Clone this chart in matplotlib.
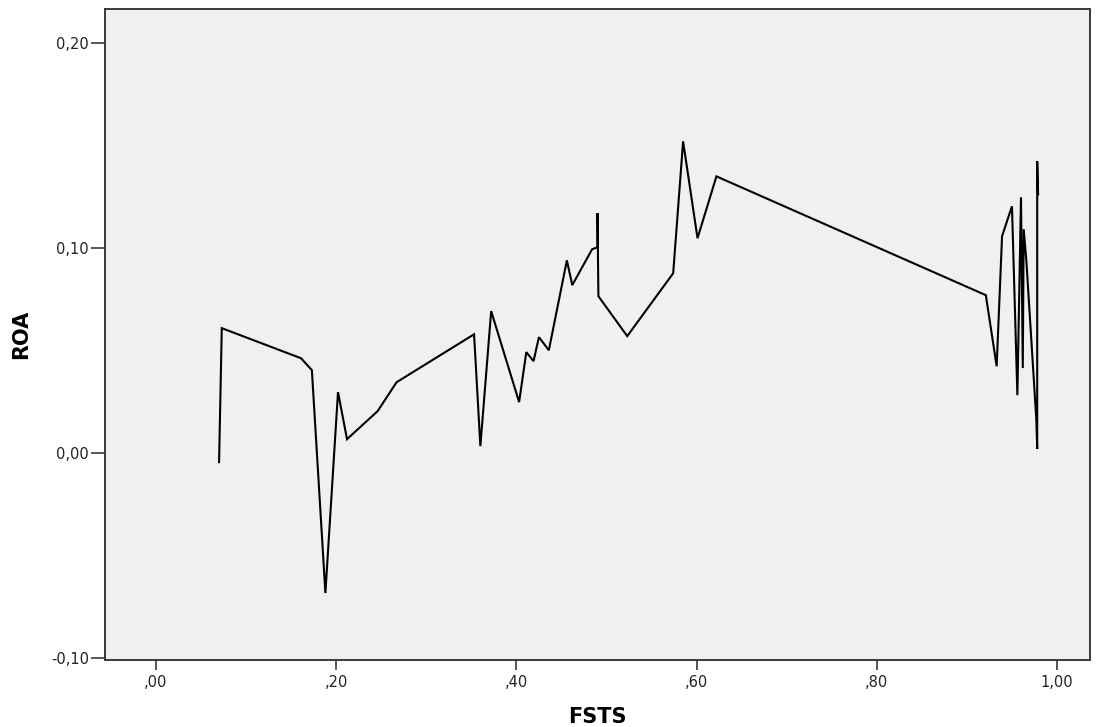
import matplotlib
matplotlib.use("Agg")
import matplotlib.pyplot as plt
from matplotlib.ticker import FixedLocator

plt.rcParams['font.family'] = ['DejaVu Sans']

fsts = [0.070, 0.073, 0.161, 0.173, 0.188, 0.202, 0.212, 0.246, 0.267,
        0.353, 0.360, 0.372, 0.403, 0.411, 0.419, 0.425, 0.436, 0.456,
        0.462, 0.484, 0.490, 0.490, 0.491, 0.523, 0.574, 0.585, 0.601,
        0.622, 0.921, 0.933, 0.939, 0.950, 0.956, 0.960, 0.962, 0.963,
        0.966, 0.977, 0.978, 0.978, 0.979]
roa = [-0.0044, 0.0610, 0.0463, 0.0405, -0.0683, 0.0298, 0.0068, 0.0205, 0.0346,
       0.0580, 0.0034, 0.0693, 0.0249, 0.0493, 0.0449, 0.0566, 0.0502, 0.0941,
       0.0820, 0.0995, 0.1005, 0.1171, 0.0766, 0.0571, 0.0878, 0.1522, 0.1049,
       0.1351, 0.0771, 0.0424, 0.1059, 0.1205, 0.0283, 0.1249, 0.0415, 0.1093,
       0.0937, 0.0166, 0.0020, 0.1424, 0.1263]

xticks = [0.0, 0.2, 0.4, 0.6, 0.8, 1.0]
xticklabels = [",00", ",20", ",40", ",60", ",80", "1,00"]
yticks = [-0.10, 0.0, 0.10, 0.20]
yticklabels = ["-0,10", "0,00", "0,10", "0,20"]

fig = plt.figure(figsize=(10.98, 7.27), dpi=100)
ax = fig.add_axes([105/1098, 1 - 660/727, (1090-105)/1098, (660-9)/727])
ax.set_facecolor('#F0F0F0')
ax.plot(fsts, roa, color='black', linewidth=1.5, solid_joinstyle='miter')

ax.set_xlim(-0.0566, 1.0366)
ax.set_ylim(-0.101, 0.2168)
ax.xaxis.set_major_locator(FixedLocator(xticks))
ax.set_xticklabels(xticklabels)
ax.yaxis.set_major_locator(FixedLocator(yticks))
ax.set_yticklabels(yticklabels)

for s in ax.spines.values():
    s.set_color('#3a3a3a')
    s.set_linewidth(1.4)
ax.tick_params(axis='both', colors='#3a3a3a', labelcolor='#222222', labelsize=10.5, width=1.2)
ax.tick_params(axis='x', length=7, direction='out', pad=4)
ax.tick_params(axis='y', length=10, direction='out', pad=1.5)

ax.set_xlabel('FSTS', fontsize=15, fontweight='bold', labelpad=12)
ax.set_ylabel('ROA', fontsize=15, fontweight='bold', labelpad=14)

fig.savefig('out.png', dpi=100, facecolor='white')
